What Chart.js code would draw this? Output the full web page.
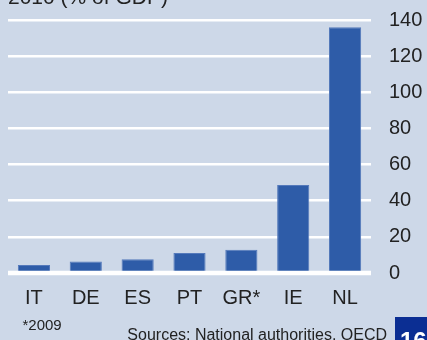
<!DOCTYPE html>
<html>
<head>
<meta charset="utf-8">
<script src="https://cdn.jsdelivr.net/npm/chart.js@4/dist/chart.umd.min.js"></script>
<style>
  html, body { margin: 0; padding: 0; background: #cdd8e8; }
  #wrap { width: 427px; height: 340px; position: relative; }
</style>
</head>
<body>
<div id="wrap"><canvas id="c" width="427" height="340"></canvas></div>
<script>
// Country codes along the x axis
const countries = ['IT', 'DE', 'ES', 'PT', 'GR*', 'IE', 'NL'];
// Values, 2010 (% of GDP)
const shareOfGdp = [4.4, 6.3, 7.6, 11.1, 12.8, 48.7, 136];
// Y axis ticks
const yTicks = [0, 20, 40, 60, 80, 100, 120, 140];

const titleText = '2010 (% of GDP)';
const footnoteText = '*2009';
const sourceText = 'Sources: National authorities, OECD';
const pageText = '16';

const FONT = '"Liberation Sans", Arial, sans-serif';
const INK = '#222222';

// Fills the background and draws the surrounding texts and the page tab
const decorations = {
  id: 'decorations',
  beforeDraw(chart) {
    const ctx = chart.ctx;
    ctx.save();
    ctx.fillStyle = '#cdd8e8';
    ctx.fillRect(0, 0, chart.width, chart.height);
    ctx.restore();
  },
  afterDatasetsDraw(chart) {
    // white zero line laid over the bar feet
    const ctx = chart.ctx;
    const y0 = chart.scales.y.getPixelForValue(0);
    const a = chart.chartArea;
    ctx.save();
    ctx.strokeStyle = '#ffffff';
    ctx.lineWidth = 4.5;
    ctx.beginPath();
    ctx.moveTo(a.left, y0);
    ctx.lineTo(a.right, y0);
    ctx.stroke();
    ctx.restore();
  },
  afterDraw(chart) {
    const ctx = chart.ctx;
    ctx.save();
    ctx.fillStyle = INK;
    ctx.textBaseline = 'alphabetic';
    ctx.font = '21px ' + FONT;
    ctx.textAlign = 'left';
    ctx.fillText(titleText, 8, 3.5);

    ctx.font = '15px ' + FONT;
    ctx.fillText(footnoteText, 22.5, 330);

    ctx.font = '16px ' + FONT;
    ctx.textAlign = 'right';
    ctx.fillText(sourceText, 387, 340);

    ctx.fillStyle = '#0b2e93';
    ctx.fillRect(395, 317, 32, 23);
    ctx.fillStyle = '#ffffff';
    ctx.font = 'bold 24px ' + FONT;
    ctx.textAlign = 'left';
    ctx.fillText(pageText, 400, 348.5);
    ctx.restore();
  }
};

new Chart(document.getElementById('c'), {
  type: 'bar',
  data: {
    labels: countries,
    datasets: [{
      data: shareOfGdp,
      backgroundColor: '#2e5ca8',
      borderColor: '#5479bb',
      borderWidth: 1,
      barPercentage: 0.62,
      categoryPercentage: 1.0
    }]
  },
  options: {
    responsive: false,
    animation: false,
    devicePixelRatio: 1,
    layout: { padding: { top: 20, left: 8, right: 0, bottom: 0 } },
    plugins: {
      legend: { display: false },
      tooltip: { enabled: false },
      title: { display: false }
    },
    scales: {
      x: {
        grid: { display: false, drawTicks: false },
        border: { display: false },
        ticks: {
          color: INK,
          font: { family: FONT, size: 20 },
          padding: 13,
          maxRotation: 0,
          autoSkip: false
        },
        afterFit(scale) { scale.height = 67; }
      },
      y: {
        position: 'right',
        min: 0,
        max: 140,
        afterBuildTicks(scale) { scale.ticks = yTicks.map(v => ({ value: v })); },
        grid: {
          color: '#ffffff',
          lineWidth: 2.5,
          drawTicks: true,
          tickLength: 18,
          tickColor: 'rgba(0,0,0,0)'
        },
        border: { display: false },
        ticks: {
          color: INK,
          font: { family: FONT, size: 20 },
          padding: 0
        },
        afterFit(scale) { scale.width = 56; }
      }
    }
  },
  plugins: [decorations]
});
</script>
</body>
</html>
